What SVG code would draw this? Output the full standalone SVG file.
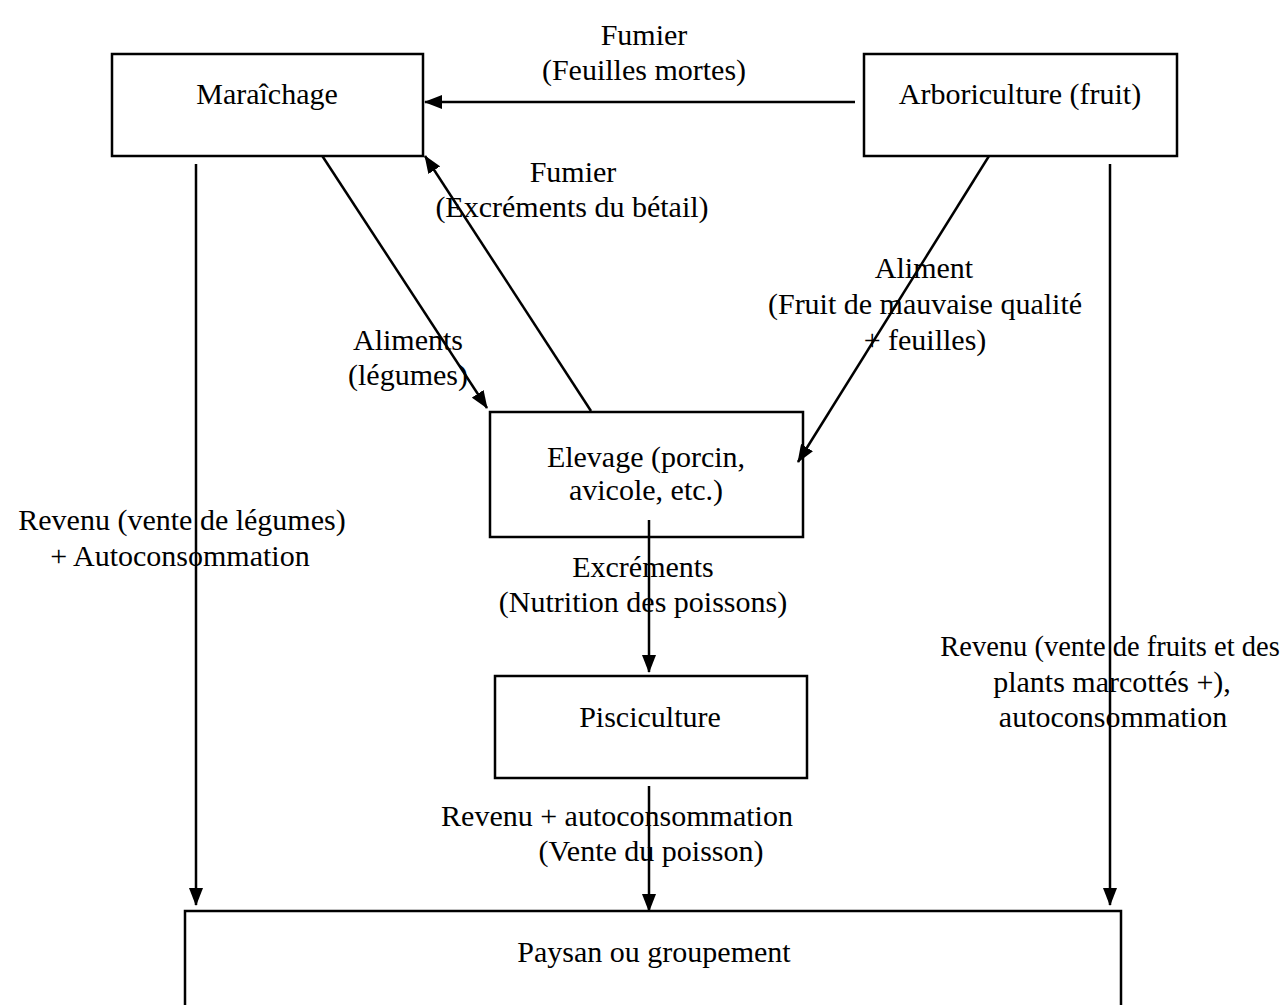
<svg xmlns="http://www.w3.org/2000/svg" width="1285" height="1005" viewBox="0 0 1285 1005">
<style>
.box{fill:#fff;stroke:#000;stroke-width:2.5}
.ln{stroke:#000;stroke-width:2.5;fill:none}
text{font-family:"Liberation Serif","Times New Roman",serif;font-size:30px;fill:#000;text-anchor:middle}
</style>
<defs>
<marker id="ah" viewBox="0 0 18 14" refX="17" refY="7" markerWidth="18" markerHeight="14" markerUnits="userSpaceOnUse" orient="auto">
<path d="M0,0 L18,7 L0,14 Z" fill="#000"/>
</marker>
</defs>
<rect width="1285" height="1005" fill="#fff"/>
<g id="connectors">
<line class="ln" x1="855" y1="102" x2="425" y2="102" marker-end="url(#ah)"/>
<line class="ln" x1="196" y1="164" x2="196" y2="905" marker-end="url(#ah)"/>
<line class="ln" x1="1110" y1="164" x2="1110" y2="905" marker-end="url(#ah)"/>
<line class="ln" x1="321" y1="154" x2="487" y2="408" marker-end="url(#ah)"/>
<line class="ln" x1="591" y1="411" x2="425" y2="156" marker-end="url(#ah)"/>
<line class="ln" x1="989" y1="156" x2="798" y2="462" marker-end="url(#ah)"/>
<line class="ln" x1="649" y1="520" x2="649" y2="672" marker-end="url(#ah)"/>
<line class="ln" x1="649" y1="786" x2="649" y2="911" marker-end="url(#ah)"/>
<text x="644" y="45">Fumier</text>
<text x="644" y="80">(Feuilles mortes)</text>
<text x="573" y="182">Fumier</text>
<text x="572" y="217">(Excréments du bétail)</text>
<text x="924" y="278">Aliment</text>
<text x="925" y="314">(Fruit de mauvaise qualité</text>
<text x="925" y="350">+ feuilles)</text>
<text x="408" y="350">Aliments</text>
<text x="408" y="385">(légumes)</text>
<text x="643" y="577">Excréments</text>
<text x="643" y="612">(Nutrition des poissons)</text>
<text x="617" y="826">Revenu + autoconsommation</text>
<text x="651" y="861">(Vente du poisson)</text>
<text x="182" y="530">Revenu (vente de légumes)</text>
<text x="180" y="566">+ Autoconsommation</text>
<text x="1110" y="656" style="font-size:28.5px">Revenu (vente de fruits et des</text>
<text x="1112" y="692">plants marcottés +),</text>
<text x="1113" y="727">autoconsommation</text>
</g>
<g id="maraichage">
<rect class="box" x="112" y="54" width="311" height="102"/>
<text x="267" y="104">Maraîchage</text>
</g>
<g id="arboriculture">
<rect class="box" x="864" y="54" width="313" height="102"/>
<text x="1020" y="104">Arboriculture (fruit)</text>
</g>
<g id="elevage">
<rect class="box" x="490" y="412" width="313" height="125" style="fill:none"/>
<text x="646" y="467">Elevage (porcin,</text>
<text x="646" y="500">avicole, etc.)</text>
</g>
<g id="pisciculture">
<rect class="box" x="495" y="676" width="312" height="102"/>
<text x="650" y="727">Pisciculture</text>
</g>
<g id="paysan">
<rect class="box" x="185" y="911" width="936" height="110"/>
<text x="654" y="962">Paysan ou groupement</text>
</g>
</svg>
